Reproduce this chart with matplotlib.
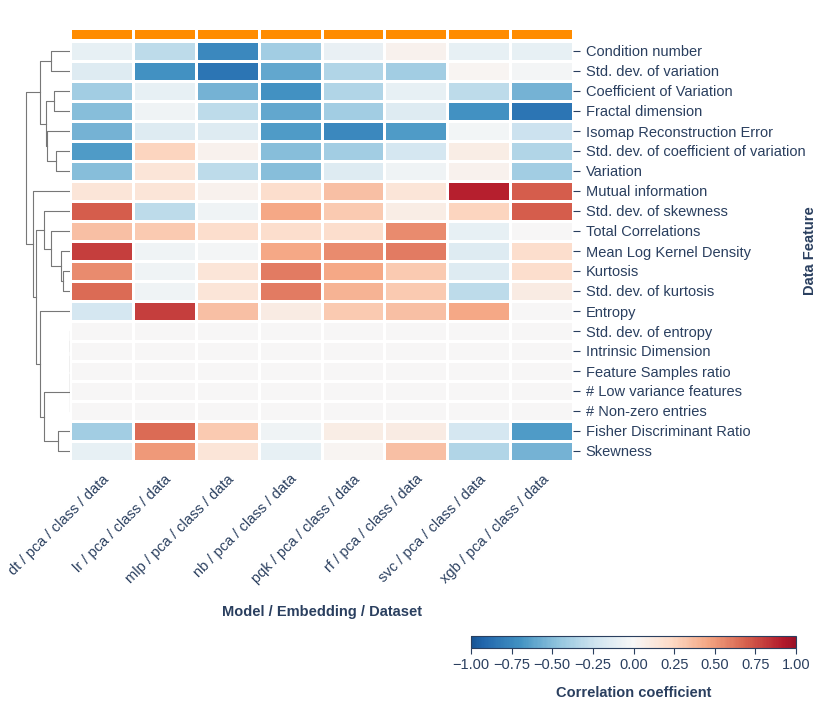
import numpy as np
import matplotlib
matplotlib.use("Agg")
import matplotlib.pyplot as plt
from matplotlib.colors import ListedColormap, LinearSegmentedColormap

models = ["dt / pca / class / data", "lr / pca / class / data", "mlp / pca / class / data",
          "nb / pca / class / data", "pqk / pca / class / data", "rf / pca / class / data",
          "svc / pca / class / data", "xgb / pca / class / data"]
features = ["Condition number", "Std. dev. of variation", "Coefficient of Variation",
            "Fractal dimension", "Isomap Reconstruction Error",
            "Std. dev. of coefficient of variation", "Variation", "Mutual information",
            "Std. dev. of skewness", "Total Correlations", "Mean Log Kernel Density",
            "Kurtosis", "Std. dev. of kurtosis", "Entropy", "Std. dev. of entropy",
            "Intrinsic Dimension", "Feature Samples ratio", "# Low variance features",
            "# Non-zero entries", "Fisher Discriminant Ratio", "Skewness"]
values = [
    [-0.10, -0.30, -0.75, -0.40, -0.08, 0.05, -0.10, -0.10],
    [-0.15, -0.70, -0.85, -0.60, -0.35, -0.40, 0.02, -0.02],
    [-0.40, -0.10, -0.55, -0.70, -0.35, -0.10, -0.30, -0.55],
    [-0.50, -0.05, -0.30, -0.60, -0.40, -0.15, -0.70, -0.85],
    [-0.55, -0.15, -0.15, -0.65, -0.75, -0.65, -0.03, -0.25],
    [-0.65, 0.25, 0.05, -0.50, -0.40, -0.20, 0.08, -0.35],
    [-0.50, 0.15, -0.30, -0.50, -0.15, -0.05, 0.05, -0.40],
    [0.15, 0.15, 0.05, 0.20, 0.35, 0.15, 0.90, 0.70],
    [0.70, -0.30, -0.05, 0.45, 0.30, 0.08, 0.25, 0.70],
    [0.35, 0.30, 0.20, 0.20, 0.20, 0.55, -0.10, 0.00],
    [0.80, -0.05, -0.02, 0.45, 0.55, 0.60, -0.15, 0.20],
    [0.55, -0.05, 0.15, 0.60, 0.45, 0.30, -0.15, 0.20],
    [0.65, -0.05, 0.15, 0.60, 0.40, 0.30, -0.30, 0.10],
    [-0.20, 0.80, 0.35, 0.10, 0.30, 0.35, 0.45, 0.00],
    [0, 0, 0, 0, 0, 0, 0, 0],
    [0, 0, 0, 0, 0, 0, 0, 0],
    [0, 0, 0, 0, 0, 0, 0, 0],
    [0, 0, 0, 0, 0, 0, 0, 0],
    [0, 0, 0, 0, 0, 0, 0, 0],
    [-0.40, 0.65, 0.30, -0.05, 0.08, 0.10, -0.20, -0.65],
    [-0.10, 0.50, 0.15, -0.10, 0.02, 0.35, -0.35, -0.55],
]
# linkage merges: (child_a, child_b, height); ids >= 21 refer to earlier merges
merges = [
    (0, 1, 10.7), (2, 3, 8.7), (5, 6, 7.7), (4, 23, 12.7), (22, 24, 13.3), (21, 25, 16.7),
    (11, 12, 3.7), (10, 27, 5.3), (9, 28, 10.7), (8, 29, 14.7),
    (14, 15, 0), (31, 16, 0), (32, 17, 0), (33, 18, 0), (19, 20, 6.7), (34, 35, 14.7),
    (13, 36, 16.7), (30, 37, 19.0), (7, 38, 20.7), (26, 39, 24.7),
]

plt.rcParams["font.family"] = ["Liberation Sans", "DejaVu Sans"]
txt = "#2a3f5f"
W, H = 822, 701
fig = plt.figure(figsize=(W / 100, H / 100), dpi=100)
base = plt.get_cmap("RdBu_r")
cmap = LinearSegmentedColormap.from_list("rdbu_mid", base(np.linspace(0.07, 0.93, 256)))

def ax_px(x0, y0, x1, y1):
    return fig.add_axes([x0 / W, 1 - y1 / H, (x1 - x0) / W, (y1 - y0) / H])

data = np.array(values)
nr, nc = data.shape
ax = ax_px(70, 41, 573, 461)
mesh = ax.pcolormesh(data, cmap=cmap, vmin=-1, vmax=1, edgecolors="white", linewidth=2)
ax.set_xlim(0, nc); ax.set_ylim(nr, 0)
ax.set_xticks(np.arange(nc) + 0.5)
ax.set_xticklabels(models, rotation=45, ha="right", rotation_mode="anchor", color=txt, fontsize=10.5)
ax.yaxis.tick_right()
ax.set_yticks(np.arange(nr) + 0.5)
ax.set_yticklabels(features, color=txt, fontsize=10.5)
ax.tick_params(axis="y", length=5, color=txt, pad=4)
ax.tick_params(axis="x", length=0, pad=8)
for s in ax.spines.values():
    s.set_visible(False)
ax.set_xlabel("Model / Embedding / Dataset", color=txt, fontsize=10.5, fontweight="bold", labelpad=14)
fig.text(810 / W, 1 - 251 / H, "Data Feature", rotation=90, color=txt, fontsize=10.5,
         fontweight="bold", ha="center", va="center")

# top orange bar
axt = ax_px(70, 28, 573, 40)
axt.pcolormesh(np.zeros((1, nc)), cmap=ListedColormap(["#ff8c00"]), edgecolors="white", linewidth=2)
axt.set_xlim(0, nc); axt.axis("off")

# dendrogram
axd = ax_px(25, 41, 70, 461)
pos = {i: i + 0.5 for i in range(nr)}
hgt = {i: 0.0 for i in range(nr)}
for k, (a, b, h) in enumerate(merges):
    ya, yb = pos[a], pos[b]
    axd.plot([hgt[a], h, h, hgt[b]], [ya, ya, yb, yb], color="#777777", lw=0.8)
    pos[nr + k] = (ya + yb) / 2
    hgt[nr + k] = h
axd.set_ylim(nr, 0)
axd.set_xlim(max(m[2] for m in merges) * 1.02, 0)
axd.axis("off")

# colorbar
cax = ax_px(471, 636, 796, 648)
cb = fig.colorbar(mesh, cax=cax, orientation="horizontal")
cb.set_ticks(np.arange(-1, 1.01, 0.25))
cb.ax.tick_params(labelsize=10.5, colors=txt, length=4)
cb.outline.set_edgecolor(txt)
cb.set_label("Correlation coefficient", color=txt, fontsize=10.5, fontweight="bold", labelpad=10)

fig.savefig("out.png", dpi=100)
